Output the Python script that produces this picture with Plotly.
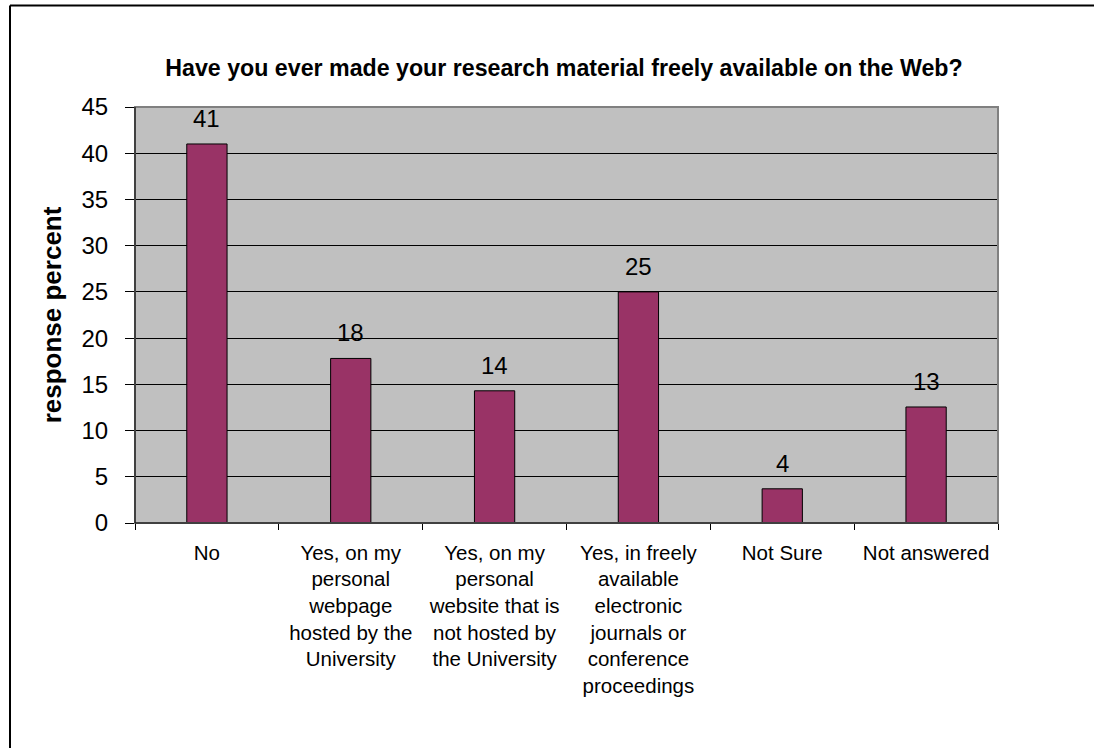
import plotly.graph_objects as go

categories = [
    "No",
    "Yes, on my<br>personal<br>webpage<br>hosted by the<br>University",
    "Yes, on my<br>personal<br>website that is<br>not hosted by<br>the University",
    "Yes, in freely<br>available<br>electronic<br>journals or<br>conference<br>proceedings",
    "Not Sure",
    "Not answered",
]
values = [41.0, 17.8, 14.3, 25.0, 3.7, 12.55]
y_ticks = [0, 5, 10, 15, 20, 25, 30, 35, 40, 45]

W, H = 1094, 748
ml, mr, mt, mb = 135, 96, 107, 225
pw, ph = W - ml - mr, H - mt - mb

FONT = "Liberation Sans, Arial, sans-serif"

fig = go.Figure(
    go.Bar(
        x=categories,
        y=values,
        marker=dict(color="#993366", line=dict(color="black", width=1)),
        hoverinfo="x+y",
    )
)

# data labels above bars (rounded values)
for c, v in zip(categories, values):
    fig.add_annotation(
        x=c, y=v, xref="x", yref="y",
        text=f"{v:.0f}",
        showarrow=False,
        yanchor="bottom",
        yshift=10,
        font=dict(size=24, color="black", family=FONT),
    )

def px_x(p):
    return (p - ml) / pw

def px_y(p):
    return 1 - (p - mt) / ph

fig.update_layout(
    width=W,
    height=H,
    margin=dict(l=ml, r=mr, t=mt, b=mb, autoexpand=False),
    paper_bgcolor="white",
    plot_bgcolor="#C0C0C0",
    bargap=0.72,
    showlegend=False,
    font=dict(family=FONT, color="black"),
    title=dict(
        text="<b>Have you ever made your research material freely available on the Web?</b>",
        font=dict(size=23.2, color="black", family=FONT),
        x=564 / W,
        xanchor="center",
        y=1 - 68 / H,
        yanchor="middle",
    ),
    xaxis=dict(
        type="category",
        showline=True,
        linecolor="black",
        linewidth=1,
        ticks="outside",
        tickson="boundaries",
        ticklen=6,
        tickcolor="black",
        ticklabelstandoff=11,
        tickfont=dict(size=20.5, color="black", family=FONT),
        showgrid=False,
    ),
    yaxis=dict(
        range=[0, 45],
        tickvals=y_ticks,
        showline=True,
        linecolor="black",
        linewidth=1,
        ticks="outside",
        ticklen=9,
        tickcolor="black",
        ticklabelstandoff=12,
        tickfont=dict(size=24, color="black", family=FONT),
        showgrid=True,
        gridcolor="black",
        gridwidth=1,
        zeroline=False,
        title=dict(
            text="<b>response percent</b>",
            font=dict(size=26, color="black", family=FONT),
            standoff=12,
        ),
    ),
    shapes=[
        dict(type="rect", xref="paper", yref="paper", x0=0, x1=1, y0=0, y1=1,
             line=dict(color="#808080", width=2), layer="above"),
        dict(type="line", xref="paper", yref="paper",
             x0=px_x(10), x1=px_x(10), y0=px_y(5.5), y1=px_y(760),
             line=dict(color="black", width=2)),
        dict(type="line", xref="paper", yref="paper",
             x0=px_x(10), x1=px_x(1110), y0=px_y(5.5), y1=px_y(5.5),
             line=dict(color="black", width=2)),
    ],
)

fig.add_shape(type="line", xref="paper", yref="paper", x0=0, x1=0, y0=0, y1=1,
              line=dict(color="black", width=1), layer="above")
fig.add_shape(type="line", xref="paper", yref="paper", x0=0, x1=1, y0=0, y1=0,
              line=dict(color="black", width=1), layer="above")

fig.write_html("out.html")
